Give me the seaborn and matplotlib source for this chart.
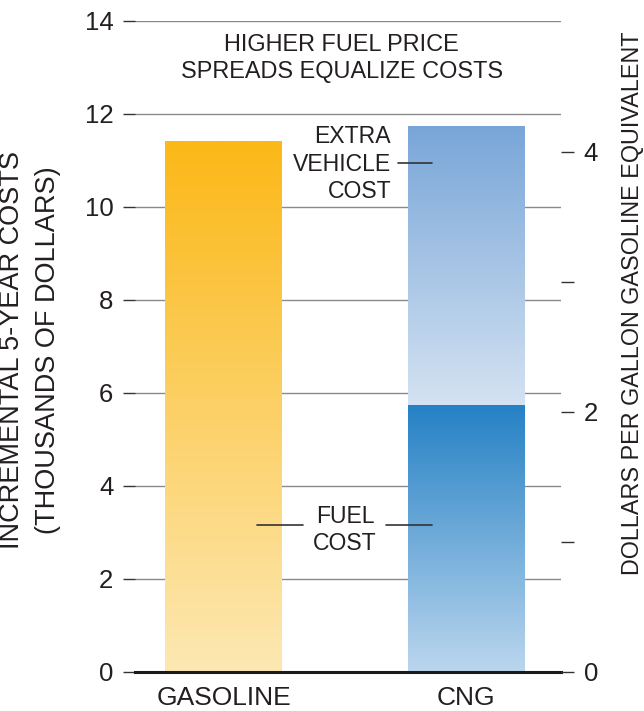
import numpy as np
import matplotlib
matplotlib.use("Agg")
import matplotlib.pyplot as plt
import seaborn as sns

# ---- data (thousands of dollars, 5-year incremental cost) ----
categories = ["GASOLINE", "CNG"]
fuel_cost = [11.42, 5.73]
extra_vehicle_cost = [0.0, 6.01]
total_cost = [f + v for f, v in zip(fuel_cost, extra_vehicle_cost)]

left_ticks = [0, 2, 4, 6, 8, 10, 12, 14]
right_ticks = [0, 1, 2, 3, 4]
right_tick_labels = ["0", "", "2", "", "4"]
right_max = 5.005  # dollars per gallon at the top of the left scale (14)

# ---- style ----
sns.set_theme(style="white")
plt.rcParams["font.family"] = ["Liberation Sans", "DejaVu Sans"]
TXT = "#231f20"
GRID = "#8a8a8a"

fig = plt.figure(figsize=(6.44, 7.11), dpi=100)
ax = fig.add_axes([0.2096, 0.0553, 0.8711 - 0.2096, 0.9705 - 0.0553])

bar_w = 0.48
sns.barplot(x=categories, y=total_cost, ax=ax, width=bar_w, color="#7ba7d9",
            saturation=1, linewidth=0, zorder=2)
sns.barplot(x=categories, y=fuel_cost, ax=ax, width=bar_w, color="#2581c5",
            saturation=1, linewidth=0, zorder=3)

# gradient fills, clipped to each bar
def fill_gradient(patch, y_lo, y_hi, c_top, c_bottom, z):
    x0 = patch.get_x()
    w = patch.get_width()
    top = np.array(matplotlib.colors.to_rgb(c_top))
    bot = np.array(matplotlib.colors.to_rgb(c_bottom))
    t = np.linspace(0, 1, 256)[:, None]
    grad = bot + (top - bot) * t
    img = ax.imshow(grad[:, None, :].repeat(2, axis=1), extent=[x0, x0 + w, y_lo, y_hi],
                    origin="lower", aspect="auto", zorder=z, interpolation="bilinear")
    img.set_clip_path(patch)
    patch.set_facecolor("none")

gas_total, cng_total, gas_fuel, cng_fuel = ax.patches[:4]
fill_gradient(gas_total, 0, total_cost[0], "#fbb817", "#fde8b3", 2)
fill_gradient(cng_total, fuel_cost[1], total_cost[1], "#78a6d8", "#d4e2f2", 2)
fill_gradient(gas_fuel, 0, fuel_cost[0], "#fbb817", "#fde8b3", 3)
fill_gradient(cng_fuel, 0, fuel_cost[1], "#2581c5", "#bbd6ee", 3)

ax.set_xlim(-0.365, 1.39)
ax.set_ylim(0, 14)
ax.set_yticks(left_ticks)
ax.set_yticklabels([str(t) for t in left_ticks])
ax.yaxis.grid(True, color=GRID, linewidth=1.0)
ax.xaxis.grid(False)
ax.set_axisbelow(True)
for s in ["top", "right", "left"]:
    ax.spines[s].set_visible(False)
ax.spines["bottom"].set_color("#1a1a1a")
ax.spines["bottom"].set_linewidth(2.2)
ax.spines["bottom"].set_zorder(5)
ax.tick_params(axis="y", left=True, length=8.6, width=1.0, color="#333333",
               pad=7, labelsize=18.5, labelcolor=TXT)
ax.tick_params(axis="x", bottom=False, length=0, pad=10, labelsize=19, labelcolor=TXT)
ax.set_xlabel("")
ax.set_ylabel("")

# right-hand scale: dollars per gallon gasoline equivalent
ax2 = ax.twinx()
ax2.set_ylim(0, right_max)
ax2.set_yticks(right_ticks)
ax2.set_yticklabels(right_tick_labels)
for s in ax2.spines.values():
    s.set_visible(False)
ax2.grid(False)
ax2.tick_params(axis="y", right=True, length=9.4, width=1.0, color="#333333",
                pad=7, labelsize=18.5, labelcolor=TXT)

# axis titles
fig.text(0.047, 0.508, "INCREMENTAL 5-YEAR COSTS\n(THOUSANDS OF DOLLARS)",
         rotation=90, ha="center", va="center", fontsize=19.5, color=TXT,
         linespacing=1.5, multialignment="center")
fig.text(0.982, 0.574, "DOLLARS PER GALLON GASOLINE EQUIVALENT",
         rotation=90, ha="center", va="center", fontsize=16.8, color=TXT)

# annotations
ax.text(0.487, 13.20, "HIGHER FUEL PRICE\nSPREADS EQUALIZE COSTS", ha="center",
        va="center", fontsize=16.9, color=TXT, linespacing=1.25, zorder=6)

vx = 1 - bar_w / 2
ax.text(vx - 0.07, 10.92, "EXTRA\nVEHICLE\nCOST", ha="right", va="center",
        fontsize=16.6, color=TXT, linespacing=1.25, multialignment="right", zorder=6)
ax.plot([vx - 0.04, vx + 0.10], [10.95, 10.95], color="#333333", lw=1.2, zorder=6)

ax.text(0.50, 3.05, "FUEL\nCOST", ha="center", va="center", fontsize=16.6,
        color=TXT, linespacing=1.25, zorder=6)
ax.plot([0.138, 0.327], [3.16, 3.16], color="#333333", lw=1.2, zorder=6)
ax.plot([0.67, 0.86], [3.16, 3.16], color="#333333", lw=1.2, zorder=6)

fig.savefig("out.png", dpi=100)
